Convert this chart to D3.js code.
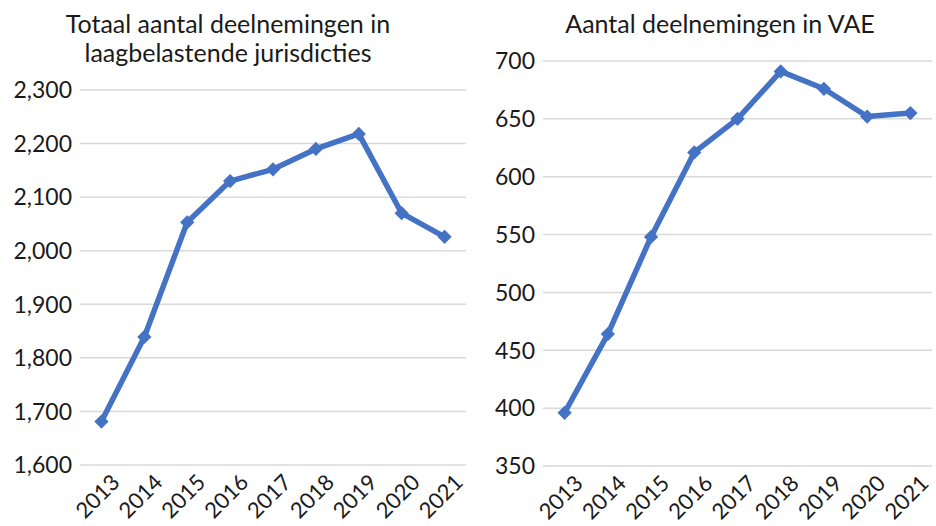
<!DOCTYPE html>
<html><head><meta charset="utf-8">
<script src="https://cdn.jsdelivr.net/npm/d3@7"></script>
<style>body{margin:0;background:#fff}svg{display:block}</style>
</head><body><svg id="c" width="936" height="526"></svg>
<script>
const years = ["2013","2014","2015","2016","2017","2018","2019","2020","2021"];
const totaalValues = [1681, 1839, 2053, 2130, 2152, 2190, 2218, 2070, 2026];
const vaeValues = [396, 464, 548, 621, 650, 691, 676, 652, 655];
const totaalTicks = [1600,1700,1800,1900,2000,2100,2200,2300];
const vaeTicks = [350,400,450,500,550,600,650,700];
const titleLeft = ["Totaal aantal deelnemingen in","laagbelastende jurisdicties"];
const titleRight = ["Aantal deelnemingen in VAE"];

const svg = d3.select("#c");
const FONT = "Lato, 'Open Sans', sans-serif";
const COLOR = "#4472C4";

function panel(cfg){
  const g = svg.append("g");
  const x = d3.scaleBand().domain(years).range([cfg.x0, cfg.x1]);
  const y = d3.scaleLinear().domain(cfg.domain).range([cfg.yb, cfg.yt]);
  g.selectAll("line.grid").data(cfg.ticks).join("line")
    .attr("x1", cfg.x0).attr("x2", cfg.x1)
    .attr("y1", d=>y(d)).attr("y2", d=>y(d))
    .attr("stroke","#d9d9d9").attr("stroke-width",1.5);
  g.selectAll("text.yl").data(cfg.ticks).join("text")
    .attr("x", cfg.x0 - 8).attr("y", d=>y(d)).attr("dy","0.36em")
    .attr("text-anchor","end").attr("font-family",FONT).attr("font-size",23)
    .attr("fill","#1a1a1a")
    .text(d=>cfg.fmt(d));
  g.selectAll("text.xl").data(years).join("text")
    .attr("transform", d=>`translate(${x(d)+x.bandwidth()/2+8},${cfg.yb+7}) rotate(-45)`)
    .attr("text-anchor","end").attr("dy","0.75em")
    .attr("font-family",FONT).attr("font-size",22).attr("fill","#1a1a1a")
    .text(d=>d);
  const pts = years.map((yr,i)=>[x(yr)+x.bandwidth()/2, y(cfg.values[i])]);
  g.append("path").attr("d", d3.line()(pts)).attr("fill","none")
    .attr("stroke",COLOR).attr("stroke-width",5.5).attr("stroke-linejoin","round");
  g.selectAll("path.m").data(pts).join("path")
    .attr("d", d3.symbol(d3.symbolDiamond2, 130)())
    .attr("transform", d=>`translate(${d[0]},${d[1]})`)
    .attr("fill",COLOR);
  cfg.title.forEach((t,i)=>{
    g.append("text").attr("x",cfg.tx).attr("y",33+i*29)
      .attr("text-anchor","middle").attr("font-family",FONT).attr("font-size",25)
      .attr("fill","#1a1a1a").text(t);
  });
}

panel({x0:80,x1:466,yt:90,yb:465,domain:[1600,2300],ticks:totaalTicks,values:totaalValues,
  fmt:d3.format(","),title:titleLeft,tx:228});
panel({x0:543,x1:932,yt:61,yb:466,domain:[350,700],ticks:vaeTicks,values:vaeValues,
  fmt:d3.format("d"),title:titleRight,tx:720});
</script></body></html>
